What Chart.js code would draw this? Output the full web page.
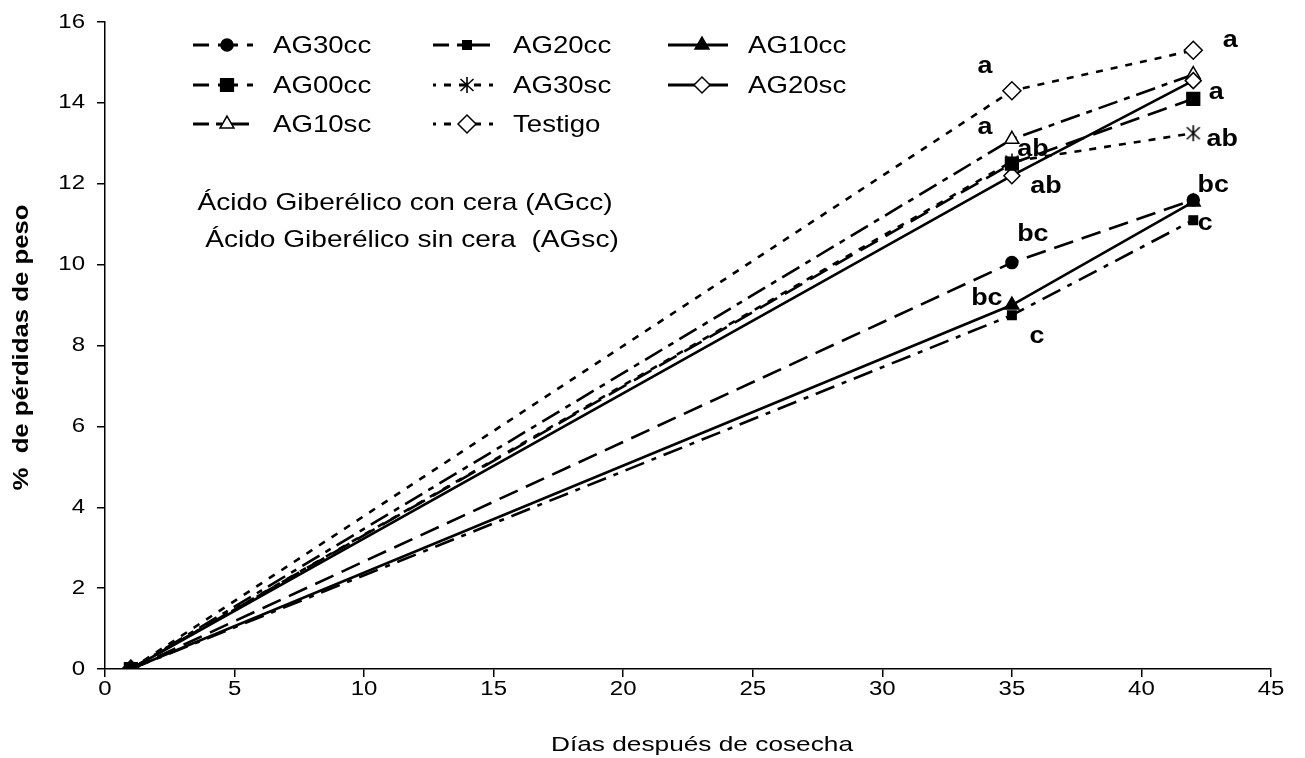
<!DOCTYPE html>
<html>
<head>
<meta charset="utf-8">
<script src="https://cdn.jsdelivr.net/npm/chart.js@4.4.0/dist/chart.umd.min.js"></script>
<style>
  html, body { margin: 0; padding: 0; background: #fff; }
  #wrap { width: 1305px; height: 758px; }
</style>
</head>
<body>
<div id="wrap"><canvas id="chart" width="1305" height="758"></canvas></div>
<script>
// Días después de cosecha
const dias = [1, 35, 42];

// % de pérdidas de peso por tratamiento
const ag30cc  = [0, 10.05, 11.6];
const ag20cc  = [0, 8.75, 11.1];
const ag10cc  = [0, 9.0, 11.55];
const ag00cc  = [0, 12.5, 14.1];
const ag30sc  = [0, 12.55, 13.25];
const ag20sc  = [0, 12.2, 14.55];
const ag10sc  = [0, 13.1, 14.7];
const testigo = [0, 14.3, 15.3];

const xTicks = [0, 5, 10, 15, 20, 25, 30, 35, 40, 45];
const yTicks = [0, 2, 4, 6, 8, 10, 12, 14, 16];

// letras de significancia: serie, índice del punto, texto
const letras = [
  ['Testigo', 1, 'a'],
  ['AG10sc', 1, 'a'],
  ['AG00cc', 1, 'ab'],
  ['AG20sc', 1, 'ab'],
  ['AG30cc', 1, 'bc'],
  ['AG10cc', 1, 'bc'],
  ['AG20cc', 1, 'c'],
  ['Testigo', 2, 'a'],
  ['AG00cc', 2, 'a'],
  ['AG30sc', 2, 'ab'],
  ['AG30cc', 2, 'bc'],
  ['AG20cc', 2, 'c']
];
// desplazamiento en px de cada letra respecto a su punto
const letraOffset = [
  [-27, -24], [-27, -12], [21, -14], [34, 11], [21, -28], [-25, -7], [25, 21],
  [37, -10], [23, -6], [29, 6], [20, -15], [12, 3]
];

const notas = ['Ácido Giberélico con cera (AGcc)', 'Ácido Giberélico sin cera  (AGsc)'];
const tituloX = 'Días después de cosecha';
const tituloY = '%  de pérdidas de peso';

const FONT = "'Liberation Sans', Arial, sans-serif";

// texto ensanchado horizontalmente (como en la gráfica original de Excel)
function wideText(ctx, text, x, y, sx) {
  ctx.save();
  ctx.translate(x, y);
  ctx.scale(sx, 1);
  ctx.fillText(text, 0, 0);
  ctx.restore();
}

// asterisco (sin brazo horizontal) para AG30sc
function makeAsterisk() {
  const c = document.createElement('canvas');
  c.width = 20; c.height = 20;
  const g = c.getContext('2d');
  g.strokeStyle = '#000';
  g.lineWidth = 1.6;
  g.beginPath();
  g.moveTo(10, 2); g.lineTo(10, 18);
  g.moveTo(3.5, 4); g.lineTo(16.5, 16);
  g.moveTo(16.5, 4); g.lineTo(3.5, 16);
  g.stroke();
  return c;
}
const asterisk = makeAsterisk();

function serie(label, data, dash, style, radius, fill) {
  return {
    label: label,
    data: data,
    borderColor: '#000',
    borderWidth: 2.6,
    borderDash: dash,
    pointStyle: style,
    pointRadius: radius,
    pointHoverRadius: radius,
    pointBackgroundColor: fill,
    pointBorderColor: '#000',
    pointBorderWidth: 1.5,
    tension: 0,
    fill: false
  };
}

const datasets = [
  serie('AG30cc', ag30cc, [20, 9], 'circle', 6, '#000'),
  serie('AG20cc', ag20cc, [20, 8, 5, 8], 'rect', 6, '#000'),
  serie('AG10cc', ag10cc, [], 'triangle', 8, '#000'),
  serie('AG00cc', ag00cc, [20, 9], 'rect', 9, '#000'),
  serie('AG30sc', ag30sc, [7, 8], asterisk, 8, '#000'),
  serie('AG20sc', ag20sc, [], 'rectRot', 8, '#fff'),
  serie('AG10sc', ag10sc, [20, 7, 6, 7], 'triangle', 8, '#fff'),
  serie('Testigo', testigo, [7, 8], 'rectRot', 9, '#fff')
];

function marker(ctx, ds, x, y) {
  ctx.save();
  ctx.setLineDash([]);
  if (ds.pointStyle instanceof HTMLCanvasElement) {
    ctx.drawImage(ds.pointStyle, x - 10, y - 10);
  } else {
    ctx.fillStyle = ds.pointBackgroundColor;
    ctx.strokeStyle = '#000';
    ctx.lineWidth = 1.5;
    Chart.helpers.drawPoint(ctx, { pointStyle: ds.pointStyle, radius: ds.pointRadius, rotation: 0, borderWidth: 1.5 }, x, y);
  }
  ctx.restore();
}

// etiquetas de ejes, títulos, leyenda en tres columnas, notas y letras
const extras = {
  id: 'extras',
  afterDraw(chart) {
    const ctx = chart.ctx;
    const area = chart.chartArea;
    const sx = chart.scales.x;
    const sy = chart.scales.y;
    ctx.save();
    ctx.fillStyle = '#000';

    // números de los ejes
    ctx.font = '20px ' + FONT;
    ctx.textAlign = 'center';
    ctx.textBaseline = 'middle';
    xTicks.forEach(v => wideText(ctx, String(v), sx.getPixelForValue(v), area.bottom + 20, 1.2));
    ctx.textAlign = 'right';
    yTicks.forEach(v => wideText(ctx, String(v), area.left - 20, sy.getPixelForValue(v), 1.2));

    // títulos de los ejes
    ctx.textAlign = 'center';
    ctx.font = '21px ' + FONT;
    wideText(ctx, tituloX, (area.left + area.right) / 2 + 14, 745, 1.25);
    ctx.save();
    ctx.translate(22, (area.top + area.bottom) / 2 + 2);
    ctx.rotate(-Math.PI / 2);
    ctx.font = 'bold 22px ' + FONT;
    wideText(ctx, tituloY, 0, 0, 1.17);
    ctx.restore();

    // leyenda
    const cols = [193, 433, 668];
    const rows = [45, 85, 124];
    ctx.font = '24px ' + FONT;
    ctx.textAlign = 'left';
    chart.data.datasets.forEach((ds, i) => {
      const x0 = cols[i % 3];
      const y = rows[Math.floor(i / 3)];
      ctx.strokeStyle = '#000';
      ctx.lineWidth = 3;
      ctx.setLineDash(ds.borderDash);
      ctx.lineDashOffset = 4;
      ctx.beginPath();
      ctx.moveTo(x0, y);
      ctx.lineTo(x0 + 60, y);
      ctx.stroke();
      ctx.setLineDash([]);
      marker(ctx, ds, x0 + 34, y);
      wideText(ctx, ds.label, x0 + 80, y + 1, 1.15);
    });

    // notas
    ctx.textAlign = 'center';
    ctx.font = '24px ' + FONT;
    wideText(ctx, notas[0], area.left + 300, 203, 1.17);
    wideText(ctx, notas[1], area.left + 307, 240, 1.17);

    // letras de significancia
    ctx.font = 'bold 24px ' + FONT;
    letras.forEach((l, i) => {
      const idx = chart.data.datasets.findIndex(d => d.label === l[0]);
      const pt = chart.getDatasetMeta(idx).data[l[1]];
      wideText(ctx, l[2], pt.x + letraOffset[i][0], pt.y + letraOffset[i][1], 1.12);
    });
    ctx.restore();
  }
};

new Chart(document.getElementById('chart'), {
  type: 'line',
  data: {
    labels: dias,
    datasets: datasets.map(ds => ({ ...ds, data: ds.data.map((v, i) => ({ x: dias[i], y: v })) }))
  },
  options: {
    responsive: false,
    animation: false,
    events: [],
    layout: { padding: { top: 22, right: 34, left: 0, bottom: 0 } },
    plugins: { legend: { display: false }, tooltip: { enabled: false } },
    scales: {
      x: {
        type: 'linear',
        min: 0, max: 45,
        afterFit: s => { s.height = 89; },
        afterBuildTicks: s => { s.ticks = xTicks.map(v => ({ value: v })); },
        grid: { drawOnChartArea: false, color: '#000', lineWidth: 1.5, tickLength: 8 },
        border: { color: '#000', width: 1.5 },
        ticks: { display: false }
      },
      y: {
        min: 0, max: 16,
        afterFit: s => { s.width = 105; },
        afterBuildTicks: s => { s.ticks = yTicks.map(v => ({ value: v })); },
        grid: { drawOnChartArea: false, color: '#000', lineWidth: 1.5, tickLength: 8 },
        border: { color: '#000', width: 1.5 },
        ticks: { display: false }
      }
    }
  },
  plugins: [extras]
});
</script>
</body>
</html>
